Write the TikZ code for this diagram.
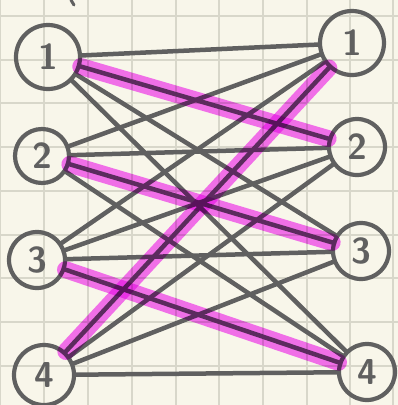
\documentclass[tikz,border=0pt]{standalone}
\usepackage{xcolor}
\usepackage{tikz}
\usetikzlibrary{arrows.meta, positioning, shapes.geometric, calc}
\definecolor{paper}{RGB}{248, 246, 234}
\definecolor{gridgray}{RGB}{216, 215, 202}
\definecolor{pengray}{RGB}{96, 96, 96}
\definecolor{highlighter}{RGB}{247, 116, 252}

\begin{document}
\begin{tikzpicture}[
  x=1pt, y=-1pt,
  vertex/.style={circle, draw=pengray, line width=4.2pt, inner sep=0pt, minimum size=58pt, font=\fontsize{36}{36}\sffamily\bfseries\color{pengray}},
  line/.style={draw=pengray, line width=4.5pt, line cap=round},
  match/.style={draw=highlighter, line width=17pt, line cap=round, blend mode=multiply},
  gridline/.style={draw=gridgray, line width=1.2pt}
]

  % paper and grid
  \fill[paper] (0,0) rectangle (398,405);
  \useasboundingbox (0,0) rectangle (398,405);
  \foreach \gx in {0,44,88,132,176,219,263,307,350,393}
    \path[gridline] (\gx,0) -- (\gx,405);
  \foreach \gy in {16,60,103,147,191,235,278,322,366}
    \path[gridline] (0,\gy) -- (398,\gy);

  % left vertices
  \node[vertex, minimum size=64pt] (l1) at (48,57) {1};
  \node[vertex, minimum size=54pt] (l2) at (42,156) {2};
  \node[vertex, minimum size=56pt] (l3) at (37,260) {3};
  \node[vertex, minimum size=60pt] (l4) at (44,375) {4};

  % right vertices
  \node[vertex, minimum size=64pt] (r1) at (352,43) {1};
  \node[vertex, minimum size=56pt] (r2) at (357,147) {2};
  \node[vertex, minimum size=56pt] (r3) at (361,251) {3};
  \node[vertex, minimum size=56pt] (r4) at (367,372) {4};

  % small stroke at the top
  \coordinate (tick a) at (71,0);
  \coordinate (tick b) at (74,5);
  \path[line, line width=3pt] (tick a) -- (tick b);

  % all edges
  \path[line] (l1) -- (r1);
  \path[line] (l1) -- (r2);
  \path[line] (l1) -- (r3);
  \path[line] (l1) -- (r4);
  \path[line] (l2) -- (r1);
  \path[line] (l2) -- (r2);
  \path[line] (l2) -- (r3);
  \path[line] (l2) -- (r4);
  \path[line] (l3) -- (r1);
  \path[line] (l3) -- (r2);
  \path[line] (l3) -- (r3);
  \path[line] (l3) -- (r4);
  \path[line] (l4) -- (r1);
  \path[line] (l4) -- (r2);
  \path[line] (l4) -- (r3);
  \path[line] (l4) -- (r4);

  % highlighted matching
  \path[match] (l1) -- (r2);
  \path[match] (l2) -- (r3);
  \path[match] (l3) -- (r4);
  \path[match] (l4) -- (r1);

\end{tikzpicture}
\end{document}
